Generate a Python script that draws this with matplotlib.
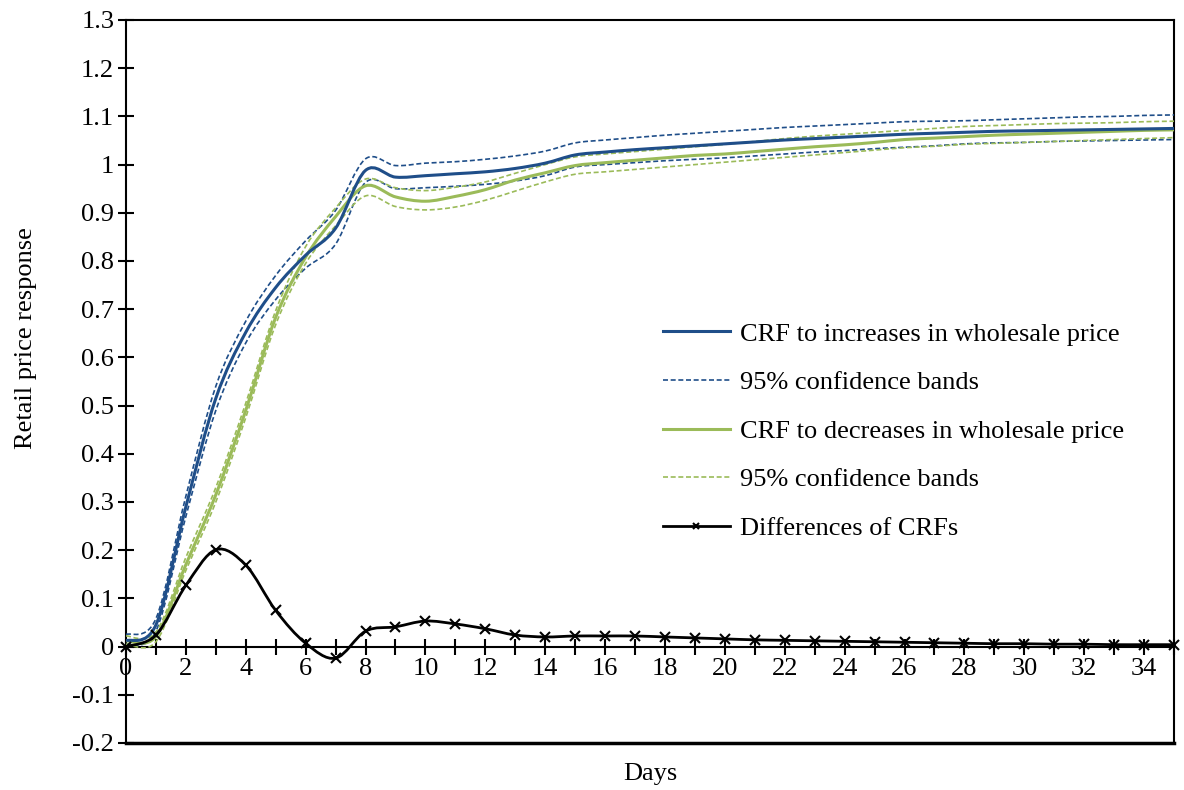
import numpy as np
import matplotlib
matplotlib.use("Agg")
import matplotlib.pyplot as plt
from matplotlib.path import Path
from matplotlib.patches import PathPatch
from matplotlib.lines import Line2D

plt.rcParams['font.family'] = ['Liberation Serif', 'DejaVu Serif']

days = list(range(36))

crf_inc = [0.012, 0.045, 0.290, 0.515, 0.652, 0.745, 0.812, 0.868, 0.988, 0.974,
           0.977, 0.981, 0.985, 0.992, 1.003, 1.020, 1.026, 1.031, 1.035, 1.039,
           1.043, 1.047, 1.051, 1.054, 1.057, 1.060, 1.063, 1.065, 1.067, 1.069,
           1.070, 1.071, 1.072, 1.073, 1.074, 1.075]
inc_upper = [0.025, 0.058, 0.312, 0.540, 0.675, 0.770, 0.842, 0.905, 1.012, 0.998,
             1.003, 1.006, 1.011, 1.018, 1.028, 1.045, 1.051, 1.056, 1.061, 1.065,
             1.069, 1.073, 1.077, 1.080, 1.083, 1.086, 1.089, 1.090, 1.091, 1.093,
             1.095, 1.097, 1.099, 1.100, 1.102, 1.103]
inc_lower = [0.004, 0.032, 0.270, 0.490, 0.630, 0.720, 0.785, 0.835, 0.963, 0.950,
             0.952, 0.955, 0.959, 0.966, 0.977, 0.995, 1.000, 1.004, 1.008, 1.011,
             1.014, 1.018, 1.022, 1.026, 1.029, 1.033, 1.036, 1.039, 1.043, 1.045,
             1.046, 1.048, 1.049, 1.050, 1.051, 1.052]

crf_dec = [0.012, 0.021, 0.170, 0.315, 0.490, 0.683, 0.808, 0.892, 0.956, 0.933,
           0.924, 0.934, 0.948, 0.968, 0.983, 0.998, 1.004, 1.009, 1.014, 1.019,
           1.022, 1.027, 1.032, 1.037, 1.041, 1.046, 1.052, 1.055, 1.058, 1.061,
           1.063, 1.065, 1.067, 1.069, 1.071, 1.072]
dec_upper = [0.022, 0.030, 0.185, 0.330, 0.505, 0.697, 0.830, 0.910, 0.970, 0.952,
             0.946, 0.953, 0.964, 0.982, 1.000, 1.016, 1.022, 1.027, 1.032, 1.037,
             1.042, 1.048, 1.054, 1.059, 1.063, 1.067, 1.071, 1.075, 1.079, 1.081,
             1.083, 1.085, 1.086, 1.087, 1.089, 1.090]
dec_lower = [0.005, 0.010, 0.158, 0.300, 0.475, 0.668, 0.795, 0.873, 0.935, 0.913,
             0.906, 0.912, 0.926, 0.945, 0.964, 0.980, 0.985, 0.990, 0.995, 1.000,
             1.005, 1.010, 1.015, 1.020, 1.025, 1.030, 1.035, 1.038, 1.042, 1.044,
             1.046, 1.048, 1.050, 1.052, 1.054, 1.056]

crf_diff = [0.000, 0.024, 0.127, 0.201, 0.169, 0.075, 0.007, -0.024, 0.032, 0.041,
            0.053, 0.047, 0.037, 0.024, 0.020, 0.022, 0.022, 0.022, 0.020, 0.018,
            0.016, 0.014, 0.013, 0.012, 0.011, 0.010, 0.009, 0.008, 0.007, 0.006,
            0.006, 0.005, 0.005, 0.004, 0.004, 0.004]

labels = ["CRF to increases in wholesale price", "95% confidence bands",
          "CRF to decreases in wholesale price", "95% confidence bands",
          "Differences of CRFs"]

blue = '#1F4E89'
green = '#9BBB59'
dash = (0, (3, 1.6))


def smooth(x, y):
    # excel-like smoothed line: catmull-rom segments as cubic beziers
    n = len(x)
    verts = [(x[0], y[0])]
    codes = [Path.MOVETO]
    for i in range(n - 1):
        a = max(i - 1, 0)
        b = min(i + 2, n - 1)
        c1 = (x[i] + (x[i + 1] - x[a]) / 6, y[i] + (y[i + 1] - y[a]) / 6)
        c2 = (x[i + 1] - (x[b] - x[i]) / 6, y[i + 1] - (y[b] - y[i]) / 6)
        verts += [c1, c2, (x[i + 1], y[i + 1])]
        codes += [Path.CURVE4] * 3
    return Path(verts, codes)


def draw(ax, y, color, lw, ls='-', z=3):
    ax.add_patch(PathPatch(smooth(days, y), fill=False, edgecolor=color,
                           lw=lw, linestyle=ls, zorder=z, capstyle='butt'))


fig = plt.figure(figsize=(11.84, 7.90), dpi=100)
ax = fig.add_axes([0.1064, 0.0595, 0.8852, 0.9152])

draw(ax, inc_upper, blue, 1.2, dash)
draw(ax, inc_lower, blue, 1.2, dash)
draw(ax, dec_upper, green, 1.2, dash)
draw(ax, dec_lower, green, 1.2, dash)
draw(ax, crf_dec, green, 2.2, z=4)
draw(ax, crf_inc, blue, 2.2, z=4)
draw(ax, crf_diff, 'black', 2.0, z=5)
ax.plot(days, crf_diff, linestyle='none', marker='x', color='black',
        markersize=7, markeredgewidth=1.5, zorder=6, clip_on=False)

ax.set_xlim(0, 35)
ax.set_ylim(-0.2, 1.3)

ax.spines['bottom'].set_position(('data', 0))
for s in ax.spines.values():
    s.set_linewidth(1.5)
ax.axhline(-0.2, color='black', lw=2.5, clip_on=False)

ax.set_xticks(days)
ax.set_xticklabels([str(d) if d % 2 == 0 else '' for d in days])
yt = np.round(np.arange(-0.2, 1.31, 0.1), 1)
ax.set_yticks(yt)
ax.set_yticklabels([f"{v:g}" for v in yt])
ax.tick_params(direction='inout', length=11, width=1.5, labelsize=19, pad=3)
ax.tick_params(axis='x', pad=3)

ax.set_xlabel("Days", fontsize=19)
ax.xaxis.set_label_coords(0.5, -0.028)
ax.set_ylabel("Retail price response", fontsize=19)
ax.yaxis.set_label_coords(-0.085, 0.56)

handles = [Line2D([], [], color=blue, lw=2.2),
           Line2D([], [], color=blue, lw=1.2, linestyle=dash),
           Line2D([], [], color=green, lw=2.2),
           Line2D([], [], color=green, lw=1.2, linestyle=dash),
           Line2D([], [], color='black', lw=2.0, marker='x', markersize=5,
                  markeredgewidth=1.5)]
ax.legend(handles, labels, loc='upper left', bbox_to_anchor=(0.512, 0.582),
          frameon=False, fontsize=19, handlelength=2.55, handletextpad=0.38,
          labelspacing=0.95, borderpad=0, borderaxespad=0)

fig.savefig("out.png", dpi=100)
